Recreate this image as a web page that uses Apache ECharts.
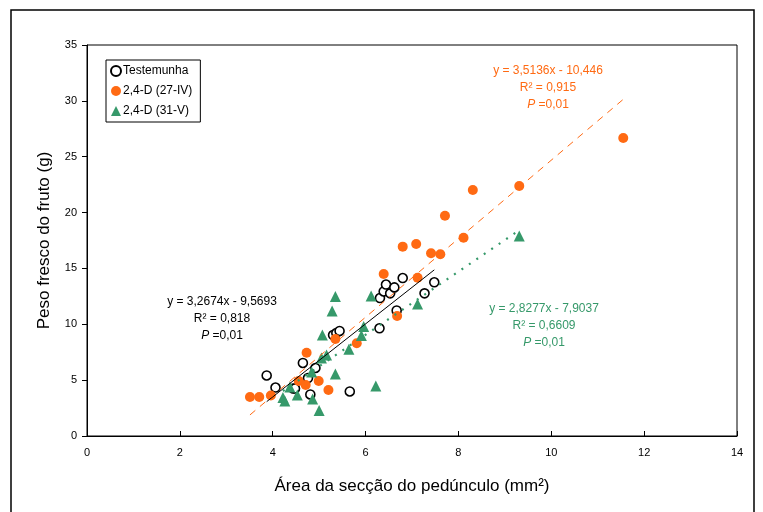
<!DOCTYPE html>
<html>
<head>
<meta charset="utf-8">
<script src="https://cdn.jsdelivr.net/npm/echarts@6/dist/echarts.min.js"></script>
<style>html,body{margin:0;padding:0;background:#fff}#c{width:763px;height:512px}</style>
</head>
<body>
<div id="c"></div>
<script>
// Testemunha (open circles): [x, y]
const testemunha = [
  [3.87,5.42],[4.06,4.34],[4.44,4.25],[4.48,4.25],[4.65,6.54],[4.76,5.19],[4.92,6.09],
  [4.81,3.72],[5.66,3.99],[5.30,9.04],[5.37,9.22],[5.44,9.40],[6.30,9.64],[6.67,11.24],
  [6.31,12.35],[6.39,12.94],[6.44,13.56],[6.53,12.77],[6.62,13.30],[6.80,14.14],
  [7.27,12.77],[7.48,13.76]
];
// 2,4-D (27-IV) (orange filled circles)
const d27IV = [
  [3.51,3.49],[3.71,3.49],[3.96,3.63],[4.73,7.46],[4.56,4.92],[4.71,4.57],[4.99,4.92],
  [5.20,4.12],[5.35,8.68],[5.81,8.30],[6.68,10.74],[6.39,14.50],[7.12,14.17],
  [6.80,16.95],[7.09,17.19],[7.41,16.36],[7.61,16.27],[8.11,17.75],[7.71,19.72],
  [8.31,22.02],[9.31,22.38],[11.55,26.68]
];
// 2,4-D (31-V) (green triangles)
const d31V = [
  [4.22,3.45],[4.26,3.13],[4.37,4.39],[4.53,3.67],[4.84,5.73],[4.86,3.31],[5.00,2.28],
  [5.35,5.55],[5.64,7.76],[5.16,7.25],[5.05,6.98],[5.07,9.04],[5.91,9.00],[5.96,9.80],
  [6.22,4.48],[5.28,11.19],[5.35,12.49],[6.12,12.53],[7.12,11.82],[9.31,17.90]
];
// Regression coefficients shown on the chart [slope, intercept]
const fitTest = [3.2674, -9.5693];
const fit27 = [3.5136, -10.446];
const fit31 = [2.8277, -7.9037];
const xTicks = [0, 14, 2];
const yTicks = [0, 35, 5];

const ORANGE = '#FF6A13';
const GREEN = '#36996A';
const FONT = '"Liberation Sans", Arial, sans-serif';

function fitLine(data, fit) {
  const xs = data.map(d => d[0]);
  const x0 = Math.min(...xs), x1 = Math.max(...xs);
  return [[x0, fit[0]*x0 + fit[1]], [x1, fit[0]*x1 + fit[1]]];
}

const chart = echarts.init(document.getElementById('c'), null, {renderer: 'canvas'});
function block(cx, y, eq, r2, color) {
  return [
    {type: 'text', x: cx, y: y, style: {text: eq, fill: color, font: '12px ' + FONT, align: 'center', verticalAlign: 'middle'}},
    {type: 'text', x: cx, y: y + 17, style: {text: r2, fill: color, font: '12px ' + FONT, align: 'center', verticalAlign: 'middle'}},
    {type: 'text', x: cx, y: y + 34, style: {
      text: '{i|P} =0,01', fill: color, font: '12px ' + FONT, align: 'center', verticalAlign: 'middle',
      rich: {i: {fontStyle: 'italic', fontSize: 12, fontFamily: FONT, fill: color}}
    }}
  ];
}

chart.setOption({
  animation: false,
  backgroundColor: '#fff',
  grid: {left: 87, right: 26, top: 45, bottom: 76, show: true, borderColor: '#000', borderWidth: 1, containLabel: false},
  xAxis: {
    type: 'value', min: xTicks[0], max: xTicks[1], interval: xTicks[2],
    name: 'Área da secção do pedúnculo (mm²)', nameLocation: 'middle', nameGap: 42,
    nameTextStyle: {fontSize: 17, fontFamily: FONT, color: '#000'},
    axisLine: {lineStyle: {color: '#000', width: 1}},
    axisTick: {inside: true, length: 5, lineStyle: {color: '#000'}},
    axisLabel: {fontSize: 11, fontFamily: FONT, color: '#000', margin: 11},
    splitLine: {show: false}
  },
  yAxis: {
    type: 'value', min: yTicks[0], max: yTicks[1], interval: yTicks[2],
    name: 'Peso fresco do fruto (g)', nameLocation: 'middle', nameGap: 34,
    nameTextStyle: {fontSize: 17, fontFamily: FONT, color: '#000'},
    axisLine: {show: true, lineStyle: {color: '#000', width: 1}},
    axisTick: {show: true, length: 5, lineStyle: {color: '#000'}},
    axisLabel: {fontSize: 11, fontFamily: FONT, color: '#000', margin: 10},
    splitLine: {show: false}
  },
  legend: {
    orient: 'vertical', left: 106, top: 60,
    borderColor: '#000', borderWidth: 1, padding: [5, 8, 5, 4], itemGap: 8,
    itemWidth: 10, itemHeight: 10,
    textStyle: {fontSize: 12, fontFamily: FONT, color: '#000', padding: [0, 0, 0, -3]},
    data: [
      {name: 'Testemunha', icon: 'circle'},
      {name: '2,4-D (27-IV)', icon: 'circle'},
      {name: '2,4-D (31-V)', icon: 'triangle'}
    ]
  },
  series: [
    {name: 'Testemunha', type: 'scatter', data: testemunha, symbol: 'circle', symbolSize: 9, z: 3,
     itemStyle: {color: '#fff', borderColor: '#000', borderWidth: 1.6, opacity: 1}},
    {name: '2,4-D (27-IV)', type: 'scatter', data: d27IV, symbol: 'circle', symbolSize: 10, z: 4,
     itemStyle: {color: ORANGE, opacity: 1}},
    {name: '2,4-D (31-V)', type: 'scatter', data: d31V, symbol: 'triangle', symbolSize: 11, z: 5,
     itemStyle: {color: GREEN, opacity: 1}},
    {type: 'line', data: fitLine(testemunha, fitTest), symbol: 'none', z: 6, silent: true,
     lineStyle: {color: '#000', width: 1}},
    {type: 'line', data: fitLine(d27IV, fit27), symbol: 'none', z: 6, silent: true,
     lineStyle: {color: ORANGE, width: 1, type: [7, 6]}},
    {type: 'line', data: fitLine(d31V, fit31), symbol: 'none', z: 6, silent: true,
     lineStyle: {color: GREEN, width: 2.2, type: [2, 7]}}
  ],
  graphic: [
    {type: 'rect', shape: {x: 11, y: 10, width: 743, height: 520}, style: {fill: 'none', stroke: '#000', lineWidth: 1.5}, silent: true}
  ].concat(
    block(548, 71, 'y = 3,5136x - 10,446', 'R² = 0,915', ORANGE),
    block(222, 302, 'y = 3,2674x - 9,5693', 'R² = 0,818', '#000'),
    block(544, 309, 'y = 2,8277x - 7,9037', 'R² = 0,6609', GREEN)
  )
});
</script>
</body>
</html>
